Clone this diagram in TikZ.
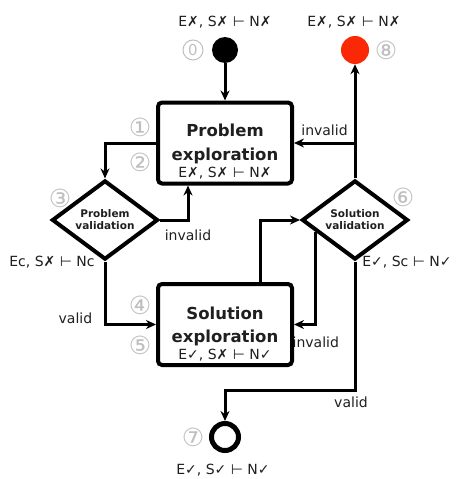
\documentclass[tikz,border=0pt]{standalone}
\usepackage{fontspec}
\setmainfont{DejaVu Sans}
\usetikzlibrary{shapes.geometric,arrows.meta}
\definecolor{stopred}{RGB}{250,40,5}

\begin{document}
\begin{tikzpicture}[x=1pt, y=-1pt,
            st/.style={circle,minimum size=26pt,inner sep=0pt},
            box/.style={draw,rounded corners=4pt,line width=4pt,minimum width=134pt,
            minimum height=81pt,inner sep=0pt,align=center,font=\fontsize{16.5}{24}\selectfont\bfseries},
            dec/.style={diamond,draw,line width=4pt,minimum width=106pt,minimum height=66pt,
            inner sep=0pt,align=center,font=\fontsize{10.5}{12}\selectfont\bfseries},
            arr/.style={-{Stealth[length=10pt,width=9pt]},line width=3pt},
            num/.style={text=black!25,font=\fontsize{25}{25}\selectfont},
            lab/.style={font=\fontsize{14}{14}\selectfont},
            every node/.style={text=black!88}]
            \useasboundingbox (0,0) rectangle (456,479);

            \node[st,fill=black] (start) at (225,50) {};
            \node[st,fill=stopred,minimum size=28pt] (stop) at (355,50) {};
            \node[st,draw,fill=white,line width=5pt,minimum size=27pt] (end) at (225,437) {};

            \node[box] (pe) at (225,143) {\rule{0pt}{30pt}Problem\\ exploration\\[-7pt]
            {\fontsize{14}{14}\selectfont\mdseries E✗, S✗ ⊢ N✗}};
            \node[box] (se) at (225,324.5) {\rule{0pt}{31pt}Solution\\[-1pt] exploration\\[-7pt]
            {\fontsize{14}{14}\selectfont\mdseries E✓, S✗ ⊢ N✓}};

            \node[dec] (pv) at (105,220) {Problem\\ validation};
            \node[dec] (sv) at (355,220) {Solution\\ validation};

            \node[lab] (lstart) at (225,22) {E✗, S✗ ⊢ N✗};
            \node[lab] (lstop) at (354,22) {E✗, S✗ ⊢ N✗};
            \node[lab] (lend) at (223,470) {E✓, S✓ ⊢ N✓};
            \node[lab] (lpv) at (52,262) {Ec, S✗ ⊢ Nc};
            \node[lab] (lsv) at (407,262) {E✓, Sc ⊢ N✓};

            % no glyph for a circled zero, so it is drawn
            \node[num,circle,draw=black!25,line width=1pt,inner sep=0pt,minimum size=20pt,
                font=\fontsize{15}{15}\selectfont] (n0) at (193,50) {0};
            \node[num] (n1) at (140,127) {①};
            \node[num] (n2) at (140,162) {②};
            \node[num] (n3) at (60,198) {③};
            \node[num] (n4) at (140,305) {④};
            \node[num] (n5) at (140,345) {⑤};
            \node[num] (n6) at (403,197) {⑥};
            \node[num] (n7) at (193,437) {⑦};
            \node[num] (n8) at (386,50) {⑧};

            \draw[arr] (start) to (pe);
            \draw[arr] (pe.west) -| (pv.north);
            \draw[arr] (pv.east) -| ([xshift=-37pt]pe.south)
                node[lab,pos=0.5,below=5pt] (inv1) {invalid};
            \draw[arr] (pv.south) |- (se.west)
                node[lab,pos=0.45,left=8pt] (val1) {valid};

            \draw[arr] ([xshift=35pt]se.north) |- (sv.west);
            \draw[arr] (sv.197) |- (se.east)
                node[lab,pos=0.5,below=8pt] (inv2) {invalid};

            \draw[arr] (sv.north) to (stop);
            \draw[arr] (sv.north |- pe.east) to
                node[lab,above=2pt,pos=0.5] (inv3) {invalid} (pe.east);
            \draw[arr] (sv.south) -- ++(0,129)
                node[lab,pos=1,below=1pt,xshift=-4pt] (val2) {valid} -| (end);
\end{tikzpicture}
\end{document}
